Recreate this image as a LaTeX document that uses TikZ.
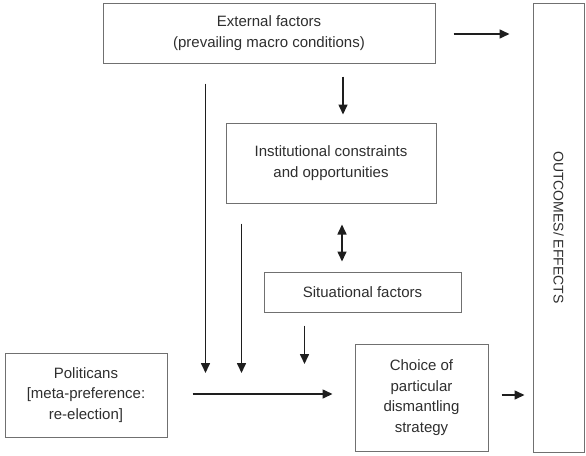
\documentclass[tikz,border=0pt]{standalone}
\usepackage{fontspec}
\setmainfont{Liberation Sans}
\usepackage{graphicx}
\usepackage{tikz}
\usetikzlibrary{arrows.meta,shapes,calc}
\usetikzlibrary{positioning}
\definecolor{boxgray}{HTML}{707070}
\definecolor{textgray}{HTML}{2E2E2E}
\definecolor{arrowblack}{HTML}{1E1E1E}
\tikzset{
    state/.style={
           rectangle,
           draw=boxgray, line width=1pt,
           inner sep=0pt,
           align=center,
           text=textgray,
           font=\fontsize{15}{20.5}\selectfont,
           },
    pil/.style={
           -{Triangle[length=10pt,width=9pt]},
           line width=1.6pt,
           draw=arrowblack,}
}

\begin{document}
\begin{tikzpicture}
\useasboundingbox (0,0) rectangle (586pt,-455pt);
% Position of External factors (EXT)
\node[state, minimum width = 332pt, minimum height = 60pt] (EXT) at (269pt,-33pt)
{External factors\\
(prevailing macro conditions)};
% Position of Institutional constraints (INST)
\node[state,
minimum width = 210pt, minimum height = 80pt,
below of = EXT,
node distance = 130pt,
xshift = 62pt] (INST)
{Institutional constraints\\
and opportunities};
% Position of Situational factors (SIT)
\node[state,
minimum width = 197pt, minimum height = 40pt,
below of = INST,
node distance = 129pt,
xshift = 31.5pt] (SIT)
{Situational factors};
% Position of Choice of strategy (CHOICE)
\node[state,
minimum width = 133pt, minimum height = 107pt,
below of = SIT,
node distance = 105.5pt,
xshift = 59pt] (CHOICE)
{Choice of\\
particular\\
dismantling\\
strategy};
% Position of Politicans (POL)
\node[state,
minimum width = 162pt, minimum height = 84pt,
left of = CHOICE,
node distance = 335.5pt,
yshift = 2.5pt] (POL)
{Politicans\\
{[meta-preference:}\\
re-election]};
% Position of Outcomes (OUT)
\node[state,
minimum width = 51pt, minimum height = 449pt,
right of = CHOICE,
node distance = 137pt,
yshift = 170pt,
font = \fontsize{14}{17}\selectfont] (OUT)
{\rotatebox{-90}{OUTCOMES/ EFFECTS}};
% Arrow tips above the main line
\coordinate (T1) at ($(POL.east)+(38pt,22pt)$);
\coordinate (T2) at ($(POL.east)+(74pt,22pt)$);
\coordinate (T3) at ($(POL.east)+(137pt,31pt)$);
% Draw lines on graph
\path ([yshift=-1pt]EXT.east) edge[pil, shorten <=18pt, shorten >=23pt] ([yshift=-1pt]EXT.east -| OUT.west);
\path ([xshift=12pt]INST.north |- EXT.south) edge[pil, shorten <=13pt, shorten >=8pt] ([xshift=12pt]INST.north);
\path ([xshift=11pt]INST.south) edge[pil, {Triangle[length=10pt,width=9pt]}-{Triangle[length=10pt,width=9pt]}, shorten <=21pt, shorten >=10pt] ([xshift=11pt]INST.south |- SIT.north);
\path (T1 |- EXT.south) edge[pil, shorten <=20pt] (T1);
\path (T2 |- INST.south) edge[pil, shorten <=20pt] (T2);
\path (T3 |- SIT.south) edge[pil, shorten <=13pt] (T3);
\path ([yshift=1pt]POL.east) edge[pil, shorten <=25pt, shorten >=22pt] ([yshift=1pt]POL.east -| CHOICE.west);
\path ([yshift=2.5pt]CHOICE.east) edge[pil, shorten <=13pt, shorten >=8pt] ([yshift=2.5pt]CHOICE.east -| OUT.west);
\end{tikzpicture}
\end{document}
